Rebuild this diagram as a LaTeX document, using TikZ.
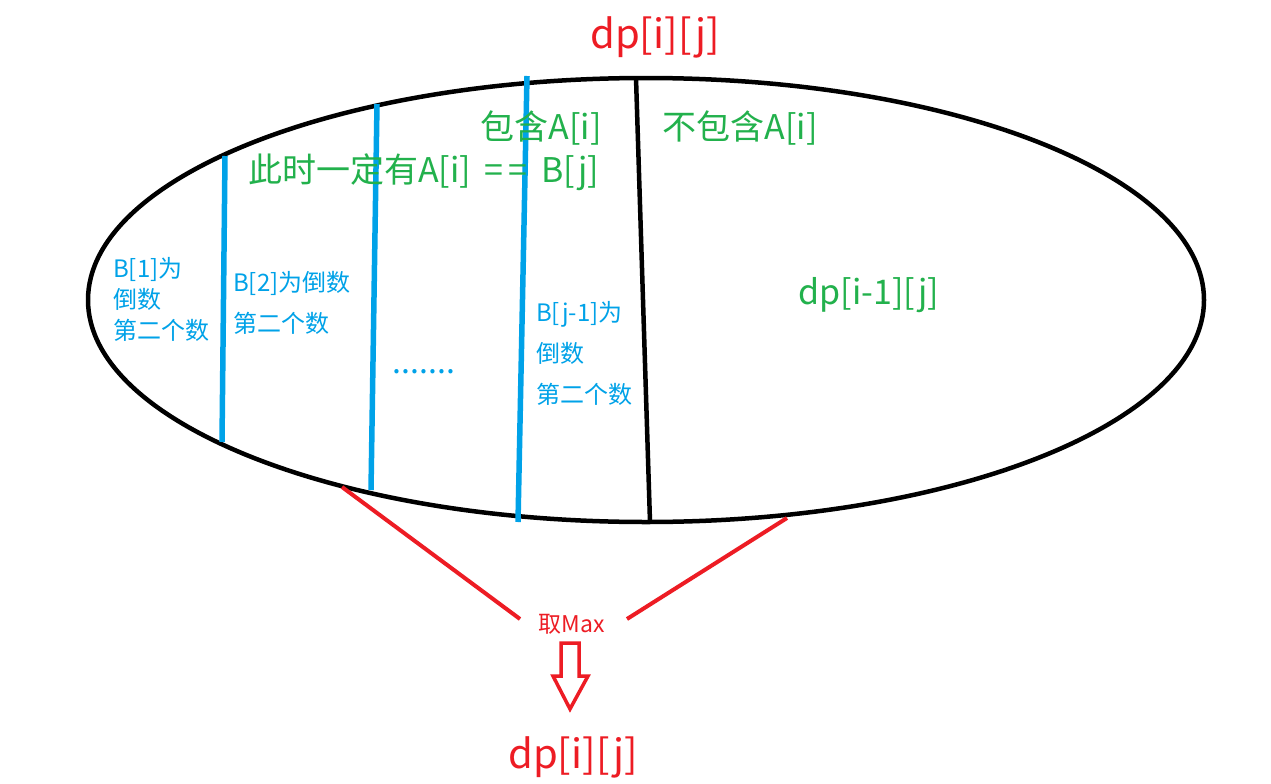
\documentclass[tikz,border=0pt]{standalone}
\usepackage{fontspec}
\setmainfont{Noto Sans CJK SC}
\definecolor{pred}{RGB}{237,28,36}
\definecolor{pgreen}{RGB}{34,177,76}
\definecolor{pblue}{RGB}{0,162,232}
\tikzset{
  redtxt/.style={text=pred, inner sep=0pt},
  greentxt/.style={text=pgreen, inner sep=0pt, font=\fontsize{34}{38}\selectfont},
  bluetxt/.style={text=pblue, inner sep=0pt, align=left, font=\fontsize{24}{41}\selectfont},
  blueline/.style={draw=pblue, line width=5.5pt},
  blackline/.style={draw=black, line width=4.5pt},
  redline/.style={draw=pred, line width=4pt},
}
\begin{document}
\begin{tikzpicture}[x=1pt,y=-1pt]
\useasboundingbox[fill=white] (0,0) rectangle (1271,784);
% ellipse
\draw[blackline] (646,300) ellipse [x radius=558pt, y radius=222pt];
% dividers
\coordinate (k1) at (636,78); \coordinate (k2) at (650,522);
\draw[blackline] (k1) -- (k2);
\coordinate (b1t) at (225,156); \coordinate (b1b) at (222,442);
\coordinate (b2t) at (377,104); \coordinate (b2b) at (371,490);
\coordinate (b3t) at (527,76); \coordinate (b3b) at (518,522);
\draw[blueline] (b1t) -- (b1b);
\draw[blueline] (b2t) -- (b2b);
\draw[blueline] (b3t) -- (b3b);
% texts
\node[redtxt, font=\fontsize{40}{44}\selectfont] (top) at (655,37) {dp[i][j]};
\node[greentxt] (inc) at (541,128) {包含A[i]};
\node[greentxt] (ninc) at (740,128) {不包含A[i]};
\node[greentxt, anchor=west] (eq) at (248,172) {此时一定有A[i]\hspace{0.4em}=\hspace{0.15em}=\hspace{0.4em}B[j]};
\node[greentxt] (prev) at (869,295) {dp[i-1][j]};
\node[bluetxt, anchor=north west, font=\fontsize{24}{31}\selectfont] (t1) at (113,257) {B[1]为\\倒数\\第二个数};
\node[bluetxt, anchor=north west] (t2) at (233,271) {B[2]为倒数\\第二个数};
\node[bluetxt, anchor=north west] (t3) at (536,301) {B[j-1]为\\倒数\\第二个数};
\node[bluetxt, font=\fontsize{32}{36}\selectfont] (dots) at (424,372) {.......};
% max
\node[redtxt, font=\fontsize{23}{26}\selectfont] (max) at (572,624) {取Max};
\coordinate (l1a) at (342,487); \coordinate (l1b) at (520,619);
\coordinate (l2a) at (787,518); \coordinate (l2b) at (627,619);
\draw[redline] (l1a) -- (l1b);
\draw[redline] (l2a) -- (l2b);
% hollow arrow
\draw[redline, line width=3.5pt, line join=miter]
  (561,643) -- (579,643) -- (579,676) -- (588,676) -- (570,709) -- (553,676) -- (561,676) -- cycle;
\node[redtxt, font=\fontsize{40}{44}\selectfont] (bot) at (573,757) {dp[i][j]};
\end{tikzpicture}
\end{document}
